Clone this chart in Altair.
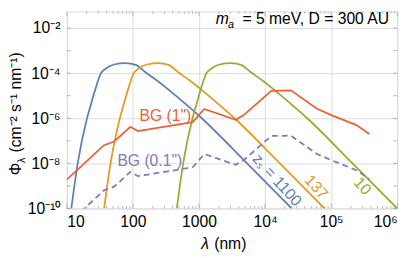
import altair as alt
import pandas as pd

# ---- data (λ in nm, Φ in cm^-2 s^-1 nm^-1) ----
lam_z1100 = [11.7, 14.6, 20.2, 23.6, 27.1, 32.9, 39.6, 52, 77.5, 110, 155, 242, 365, 568, 1100, 5340, 25300]
phi_z1100 = [1e-10, 1e-8, 1e-6, 4.97e-6, 2.01e-5, 1e-4, 1.65e-4, 2.42e-4, 2.81e-4, 2.34e-4, 1.10e-4, 4.27e-5, 1.65e-5, 5.48e-6, 1e-6, 1e-8, 1e-10]

lam_z137 = [36.7, 45.8, 63.4, 74, 84.9, 103, 124, 163, 243, 345, 485, 759, 1143, 1782, 3450, 16750, 79400]
phi_z137 = [1e-10, 1e-8, 1e-6, 4.97e-6, 2.01e-5, 1e-4, 1.65e-4, 2.42e-4, 2.81e-4, 2.34e-4, 1.10e-4, 4.27e-5, 1.65e-5, 5.48e-6, 1e-6, 1e-8, 1e-10]

lam_z10 = [462, 576, 798, 931, 1068, 1296, 1560, 2050, 3057, 4340, 6100, 9550, 14380, 22420, 43400, 210700, 1000000]
phi_z10 = [1e-10, 1e-8, 1e-6, 4.97e-6, 2.01e-5, 1e-4, 1.65e-4, 2.42e-4, 2.81e-4, 2.34e-4, 1.10e-4, 4.27e-5, 1.65e-5, 5.48e-6, 1e-6, 1e-8, 1e-10]

bg_lam = [10, 36.1, 52, 91.8, 119, 803, 1202, 3597, 4700, 12420, 24600, 61100, 102800, 241500, 379000]
bg_1arcsec = [1.92e-9, 6.25e-8, 9.33e-8, 4.19e-7, 2.72e-7, 6.70e-7, 2.59e-6, 8.61e-7, 1.35e-6, 1.65e-5, 1.73e-5, 2.64e-6, 1.35e-6, 4.96e-7, 2.01e-7]
bg_01arcsec = [1.9e-11, 6.2e-10, 9.3e-10, 4.2e-9, 2.7e-9, 6.7e-9, 2.6e-8, 8.6e-9, 1.35e-8, 1.65e-7, 1.7e-7, 2.6e-8, 1.35e-8, 5.0e-9, 2.0e-9]

curve_names = ["z1100", "z137", "z10"]
curve_colors = ["#5e81b5", "#e19c24", "#8fb032"]
bg_color = "#eb6235"
bg01_color = "#8778b3"

label_text = ["BG (1\")", "BG (0.1\")", "zₛ = 1100", "137", "10"]
label_lam = [311, 180, 15140, 59400, 297000]
label_phi = [1.29e-6, 1.26e-8, 1.82e-9, 8.77e-10, 9.8e-10]
label_color = [bg_color, bg01_color, "#5e81b5", "#e19c24", "#8fb032"]
label_angle = [0, 0, 48, 48, 48]

x_major = [10, 100, 1000, 1e4, 1e5, 1e6]
x_minor = [m * 10 ** k for k in range(1, 6) for m in range(2, 10)]
y_labeled = [1e-10, 1e-8, 1e-6, 1e-4, 1e-2]
y_ticks = [1e-10, 1e-9, 1e-8, 1e-7, 1e-6, 1e-5, 1e-4, 1e-3, 1e-2]

W, H = 337, 201
FONT = "Liberation Sans"
FRAME = "#9a9a9a"
GRID = "#dcdcdc"

rows = []
for name, lams, phis in zip(curve_names, [lam_z1100, lam_z137, lam_z10], [phi_z1100, phi_z137, phi_z10]):
    for i, (l, p) in enumerate(zip(lams, phis)):
        rows.append({"series": name, "lam": l, "phi": p, "i": i})
curves_df = pd.DataFrame(rows)
bg_df = pd.DataFrame({"lam": bg_lam, "bg1": bg_1arcsec, "bg01": bg_01arcsec})

xscale = alt.Scale(type="log", domain=[10, 1e6], nice=False)
yscale = alt.Scale(type="log", domain=[1e-10, 10 ** (-10 + H / 23)], nice=False)

x_label_expr = ("datum.value < 50 ? '10' : datum.value < 500 ? '100' : datum.value < 5000 ? '1000' : "
                "datum.value < 5e4 ? '10⁴' : datum.value < 5e5 ? '10⁵' : '10⁶'")
y_label_expr = ("datum.value < 1e-9 ? '10⁻¹⁰' : datum.value < 1e-7 ? '10⁻⁸' : datum.value < 1e-5 ? '10⁻⁶' : "
                "datum.value < 1e-3 ? '10⁻⁴' : '10⁻²'")

X = alt.X("lam:Q", scale=xscale, axis=alt.Axis(values=x_major, labelExpr=x_label_expr, grid=True,
                                               gridColor=GRID, title=None, domain=False, ticks=False,
                                               labelPadding=5, labelFontSize=16, labelFont=FONT,
                                               labelColor="#000000"))
Y = alt.Y("phi:Q", scale=yscale, axis=alt.Axis(values=y_labeled, labelExpr=y_label_expr, grid=True,
                                               gridColor=GRID, title=None, domain=False, ticks=False,
                                               labelPadding=7, labelFontSize=16, labelFont=FONT,
                                               labelColor="#000000"))

curves = alt.Chart(curves_df).mark_line(strokeWidth=1.8, clip=True, interpolate="monotone").encode(
    x=X, y=Y,
    color=alt.Color("series:N", scale=alt.Scale(domain=curve_names, range=curve_colors), legend=None),
    order="i:Q",
)

bg1 = alt.Chart(bg_df).mark_line(strokeWidth=1.8, clip=True, color=bg_color).encode(
    x=alt.X("lam:Q", scale=xscale), y=alt.Y("bg1:Q", scale=yscale))
bg01 = alt.Chart(bg_df).mark_line(strokeWidth=1.8, clip=True, color=bg01_color, strokeDash=[6, 4]).encode(
    x=alt.X("lam:Q", scale=xscale), y=alt.Y("bg01:Q", scale=yscale))

# inside frame ticks
xmaj_df = pd.DataFrame({"lam": x_major})
xmin_df = pd.DataFrame({"lam": x_minor})
yt_df = pd.DataFrame({"phi": y_ticks})
tick_layers = []
for df, L in [(xmaj_df, 5), (xmin_df, 2.5)]:
    for yy in [H - L / 2, L / 2]:
        tick_layers.append(alt.Chart(df).mark_tick(orient="vertical", size=L, thickness=1, color=FRAME).encode(
            x=alt.X("lam:Q", scale=xscale), y=alt.value(yy)))
for xx in [2, W - 2]:
    tick_layers.append(alt.Chart(yt_df).mark_tick(orient="horizontal", size=4, thickness=1, color=FRAME).encode(
        y=alt.Y("phi:Q", scale=yscale), x=alt.value(xx)))

# curve labels
label_layers = []
for t, l, p, c, a in zip(label_text, label_lam, label_phi, label_color, label_angle):
    d = pd.DataFrame({"lam": [l], "phi": [p], "t": [t]})
    label_layers.append(alt.Chart(d).mark_text(font=FONT, fontSize=16, color=c, angle=a,
                                                align="center", baseline="middle").encode(
        x=alt.X("lam:Q", scale=xscale), y=alt.Y("phi:Q", scale=yscale), text="t:N"))

one = pd.DataFrame({"k": [0]})

def txt(s, x, y, size=16, style="normal", align="left", baseline="alphabetic", angle=0, color="#000000"):
    return alt.Chart(one).mark_text(text=s, font=FONT, fontSize=size, fontStyle=style, align=align,
                                    baseline=baseline, angle=angle, color=color).encode(
        x=alt.value(x), y=alt.value(y))

annot = [
    txt("m", 152, 13, style="italic"),
    txt("a", 164.5, 17, size=11, style="italic"),
    txt("= 5 meV, D = 300 AU", 328.7, 13, align="right"),
    txt("λ", 137, 242.6, style="italic"),
    txt("(nm)", 150.3, 242.6),
    txt("Φ", -47, 167, angle=270),
    txt("λ", -43, 154.5, size=11, angle=270),
    txt("(cm⁻² s⁻¹ nm⁻¹)", -47, 144, angle=270),
]

chart = alt.layer(curves, bg1, bg01, *tick_layers, *label_layers, *annot).properties(
    width=W, height=H,
    padding={"left": 60, "right": 12, "top": 1, "bottom": 46},
    autosize=alt.AutoSizeParams(type="none"),
).configure_view(stroke=FRAME, strokeWidth=1).configure(background="white")

chart.save("out.html", embed_options={"renderer": "svg", "actions": False})
